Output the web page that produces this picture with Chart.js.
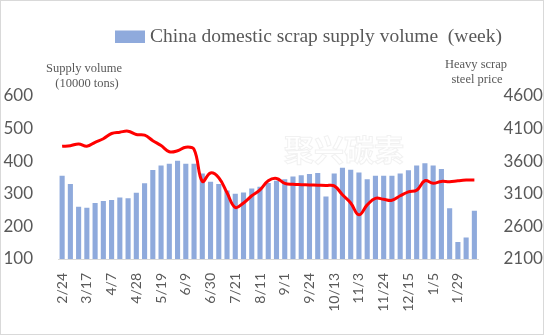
<!DOCTYPE html>
<html>
<head>
<meta charset="utf-8">
<script src="https://cdn.jsdelivr.net/npm/chart.js@4.4.0/dist/chart.umd.min.js"></script>
<style>
  html, body { margin: 0; padding: 0; background: #fff; }
  #wrap { width: 544px; height: 335px; }
</style>
</head>
<body>
<div id="wrap"><canvas id="c" width="544" height="335"></canvas></div>
<script>
// Weekly dates (only every 3rd one is shown on the axis)
const weeks = ['2/24','3/3','3/10','3/17','3/24','3/31','4/7','4/14','4/21','4/28',
  '5/5','5/12','5/19','5/26','6/2','6/9','6/16','6/23','6/30','7/7',
  '7/14','7/21','7/28','8/4','8/11','8/18','8/25','9/1','9/8','9/15',
  '9/24','9/29','10/6','10/13','10/20','10/27','11/3','11/10','11/17','11/24',
  '12/1','12/8','12/15','12/22','12/29','1/5','1/12','1/19','1/29','2/2','2/9'];

// Supply volume (10000 tons)
const supply = [355,330,260,257,272,278,281,289,286,303,
  332,373,387,392,401,392,392,362,337,330,
  310,300,304,316,322,333,340,345,353,357,
  361,364,292,362,380,374,365,345,355,355,
  355,362,372,387,394,387,376,256,152,166,248];

// Heavy scrap steel price
const price = [3828,3838,3865,3830,3890,3945,4025,4045,4060,4010,
  4000,3915,3840,3745,3760,3815,3780,3290,3420,3346,
  3115,2890,2960,3070,3160,3300,3335,3260,3246,3240,
  3236,3232,3228,3222,3085,2960,2777,2930,3030,3015,
  3000,3070,3130,3155,3300,3260,3290,3285,3300,3310,3310];

const legendText = 'China domestic scrap supply volume  (week)';
const leftTitle = ['Supply volume', '(10000 tons)'];
const rightTitle = ['Heavy scrap', 'steel price'];

const grey = '#595959';

// legend, axis titles, watermark and frame
const extras = {
  id: 'extras',
  afterDatasetsDraw(chart) {
    const c = chart.ctx;
    c.save();
    c.font = 'bold 30px "Noto Sans CJK SC"';
    c.textAlign = 'center';
    c.textBaseline = 'middle';
    c.fillStyle = 'rgba(255,255,255,0.45)';
    c.fillText('聚兴碳素', 344, 150);
    c.strokeStyle = 'rgba(210,210,210,0.3)';
    c.lineWidth = 1;
    c.strokeText('聚兴碳素', 344, 150);
    c.restore();
  },
  afterDraw(chart) {
    const c = chart.ctx;
    c.save();
    // legend
    c.fillStyle = '#8FAADC';
    c.fillRect(115, 30.5, 30, 12.5);
    c.fillStyle = grey;
    c.font = '19.5px "Liberation Serif"';
    c.textAlign = 'left';
    c.textBaseline = 'middle';
    c.fillText(legendText, 150, 37);
    // axis titles
    c.font = '12.5px "Liberation Serif"';
    c.textAlign = 'center';
    c.fillText(leftTitle[0], 84, 69);
    c.fillText(leftTitle[1], 87, 84);
    c.fillText(rightTitle[0], 476, 65);
    c.fillText(rightTitle[1], 477, 80);
    // frame
    c.strokeStyle = '#d9d9d9';
    c.lineWidth = 1;
    c.strokeRect(0.5, 0.5, 543, 334);
    c.restore();
  }
};

new Chart(document.getElementById('c'), {
  data: {
    labels: weeks,
    datasets: [
      {
        type: 'line',
        label: 'Heavy scrap steel price',
        data: price,
        yAxisID: 'y1',
        borderColor: '#FF0000',
        borderWidth: 3,
        pointRadius: 0,
        tension: 0.4,
        order: 0
      },
      {
        type: 'bar',
        label: legendText,
        data: supply,
        yAxisID: 'y',
        backgroundColor: '#8FAADC',
        barPercentage: 0.62,
        categoryPercentage: 1,
        order: 1
      }
    ]
  },
  options: {
    responsive: false,
    animation: false,
    layout: { padding: { top: 96, left: 0, right: 0, bottom: 0 } },
    plugins: { legend: { display: false }, tooltip: { enabled: false } },
    scales: {
      x: {
        grid: { display: false },
        border: { display: true, color: '#d9d9d9' },
        ticks: {
          autoSkip: false,
          minRotation: 90,
          maxRotation: 90,
          padding: 6,
          color: grey,
          font: { family: 'Lato', size: 14 },
          callback: function (v, i) { return i % 3 === 0 ? weeks[i] : ''; }
        },
        afterFit(s) { s.height = 76; }
      },
      y: {
        position: 'left',
        min: 100, max: 600,
        grid: { display: false },
        border: { display: false },
        ticks: { stepSize: 100, padding: 17, color: grey, font: { family: 'Lato', size: 17 },
          callback: v => String(v) },
        afterFit(s) { s.width = 58; }
      },
      y1: {
        position: 'right',
        min: 2100, max: 4600,
        grid: { display: false },
        border: { display: false },
        ticks: { stepSize: 500, padding: 17, color: grey, font: { family: 'Lato', size: 17 },
          callback: v => String(v) },
        afterFit(s) { s.width = 65.5; }
      }
    }
  },
  plugins: [extras]
});
</script>
</body>
</html>
